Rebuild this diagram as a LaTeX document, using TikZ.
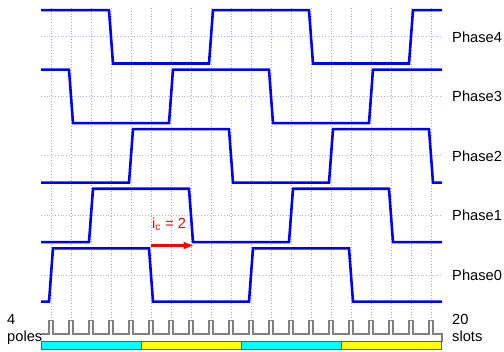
\documentclass[tikz,border=0pt]{standalone}
\usepackage{fontspec}
\setmainfont{Liberation Sans}
\usetikzlibrary{arrows.meta}
\definecolor{cwave}{HTML}{0000FF}
\definecolor{cred}{HTML}{FF0000}
\definecolor{cgrid}{HTML}{B0B0B0}
\definecolor{cmid}{HTML}{B4B4F0}
\definecolor{cteeth}{HTML}{808080}
\definecolor{ccyan}{HTML}{00FFFF}
\definecolor{cyellow}{HTML}{FFFF00}
\definecolor{cbar}{HTML}{2F6F6F}
\tikzset{
  every picture/.style={font=\fontsize{12.5}{15}\selectfont},
  wave/.style={draw=cwave, line width=2.2pt},
  slotgrid/.style={draw=cgrid, line width=0.7pt, dash pattern=on 0.8pt off 1.6pt},
  midline/.style={draw=cmid, line width=0.7pt, dash pattern=on 0.8pt off 1.6pt},
  teeth/.style={draw=cteeth, line width=1.1pt},
  bar/.style={draw=cbar, line width=0.8pt},
  phasetag/.style={anchor=west, inner sep=0pt},
  sidetag/.style={anchor=base west, inner sep=0pt, align=left},
  arrow/.style={-{Triangle[length=3mm, width=2mm]}, draw=cred, line width=1.8pt},
}
% mid y, name, start level (+1 low, -1 high), transitions
\newcommand{\phasewave}[4]{
  \draw[midline] (41,#1) -- (442,#1);
  \draw[wave] (41,{#1+26.7*(#3)}) \foreach \t [count=\i] in {#4} {
    -- ({\t-2},{#1+26.7*(#3)*(2*mod(\i,2)-1)}) -- ({\t+2},{#1-26.7*(#3)*(2*mod(\i,2)-1)})
  } -- (442,{#1+26.7*(#3)});
  \node[phasetag] (#2) at (452,#1) {#2};
}

\begin{document}
\begin{tikzpicture}[x=0.03cm, y=-0.03cm]
  \useasboundingbox (0,0) rectangle (504,351);
  % slot grid
  \foreach \x in {51,71,...,431}
    \draw[slotgrid] (\x,8) -- (\x,320);
  % phases
  \phasewave{275}{Phase0}{1}{51,151,251,351}
  \phasewave{215.45}{Phase1}{1}{91,191,291,391}
  \phasewave{155.9}{Phase2}{1}{131,231,331,431}
  \phasewave{96.35}{Phase3}{-1}{71,171,271,371}
  \phasewave{36.8}{Phase4}{-1}{111,211,311,411}
  % pitch
  \node[sidetag, text=cred] (ic) at (152,228.3) {i\textsubscript{c} = 2};
  \coordinate (icstart) at (151,245.5);
  \coordinate (icend) at (193.5,245.5);
  \draw[arrow] (icstart) -- (icend);
  % slots and poles
  \draw[teeth] (41,334) \foreach \x in {51,71,...,431} {
    -- (\x-2,334) -- (\x-2,320.5) -- (\x+2,320.5) -- (\x+2,334)
  } -- (442,334) -- (442,341.7);
  \foreach \x/\c in {41/ccyan, 141/cyellow, 241/ccyan, 341/cyellow}
    \draw[bar, fill=\c] (\x,341.7) rectangle ++(100,7.6);
  \node[sidetag] (poles) at (7,341.7) {4\\poles};
  \node[sidetag] (slots) at (452,341.7) {20\\slots};
\end{tikzpicture}
\end{document}
